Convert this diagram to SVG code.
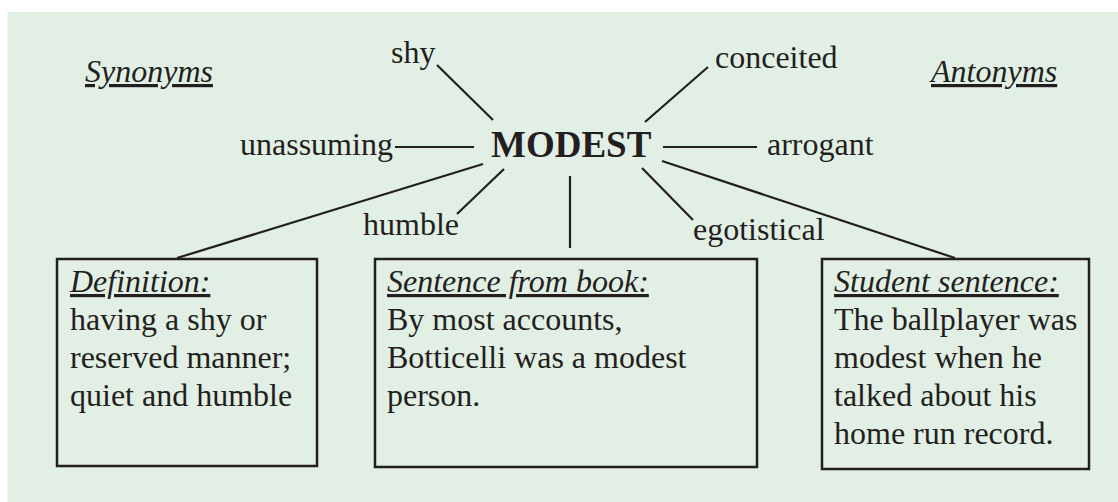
<svg xmlns="http://www.w3.org/2000/svg" width="1118" height="502" viewBox="0 0 1118 502">
  <style>
    text { font-family: "Liberation Serif", "Times New Roman", serif; font-size: 32px; fill: #231f20; }
    .head { font-style: italic; text-decoration: underline; }
    .center { font-weight: bold; font-size: 37px; }
    .conn line { stroke: #231f20; stroke-width: 2.2; stroke-linecap: butt; }
    .box { fill: none; stroke: #231f20; stroke-width: 2.5; }
  </style>
  <rect x="0" y="0" width="1118" height="502" fill="#ffffff"/>
  <rect x="7.5" y="12" width="1110.5" height="490" fill="#e2efe4"/>

  <g id="connectors" class="conn">
    <line x1="437" y1="65" x2="493" y2="120"/>
    <line x1="395" y1="147" x2="474" y2="147"/>
    <line x1="504" y1="169" x2="457" y2="214"/>
    <line x1="483" y1="164" x2="177" y2="258"/>
    <line x1="708" y1="67" x2="645" y2="122"/>
    <line x1="663" y1="147" x2="757" y2="147"/>
    <line x1="642" y1="168" x2="693" y2="220"/>
    <line x1="570" y1="176" x2="570" y2="248"/>
    <line x1="662" y1="161" x2="955" y2="258"/>
  </g>

  <g id="synonyms-label"><text class="head" x="85" y="82">Synonyms</text></g>
  <g id="antonyms-label"><text class="head" x="931" y="82">Antonyms</text></g>

  <g id="center"><text class="center" x="491" y="157">MODEST</text></g>

  <g id="shy"><text x="391" y="63">shy</text></g>
  <g id="unassuming"><text x="240" y="155">unassuming</text></g>
  <g id="humble"><text x="363" y="235">humble</text></g>
  <g id="conceited"><text x="715" y="68">conceited</text></g>
  <g id="arrogant"><text x="767" y="155">arrogant</text></g>
  <g id="egotistical"><text x="693" y="240">egotistical</text></g>

  <g id="definition">
    <rect class="box" x="57" y="259" width="260" height="207"/>
    <text class="head" x="70" y="292">Definition:</text>
    <text x="70" y="330">having a shy or</text>
    <text x="70" y="368">reserved manner;</text>
    <text x="70" y="406">quiet and humble</text>
  </g>

  <g id="sentence-from-book">
    <rect class="box" x="375" y="259" width="382" height="208"/>
    <text class="head" x="387" y="292">Sentence from book:</text>
    <text x="387" y="330">By most accounts,</text>
    <text x="387" y="368">Botticelli was a modest</text>
    <text x="387" y="406">person.</text>
  </g>

  <g id="student-sentence">
    <rect class="box" x="822" y="259" width="267" height="210"/>
    <text class="head" x="834" y="292">Student sentence:</text>
    <text x="834" y="330">The ballplayer was</text>
    <text x="834" y="368">modest when he</text>
    <text x="834" y="406">talked about his</text>
    <text x="834" y="444">home run record.</text>
  </g>
</svg>
